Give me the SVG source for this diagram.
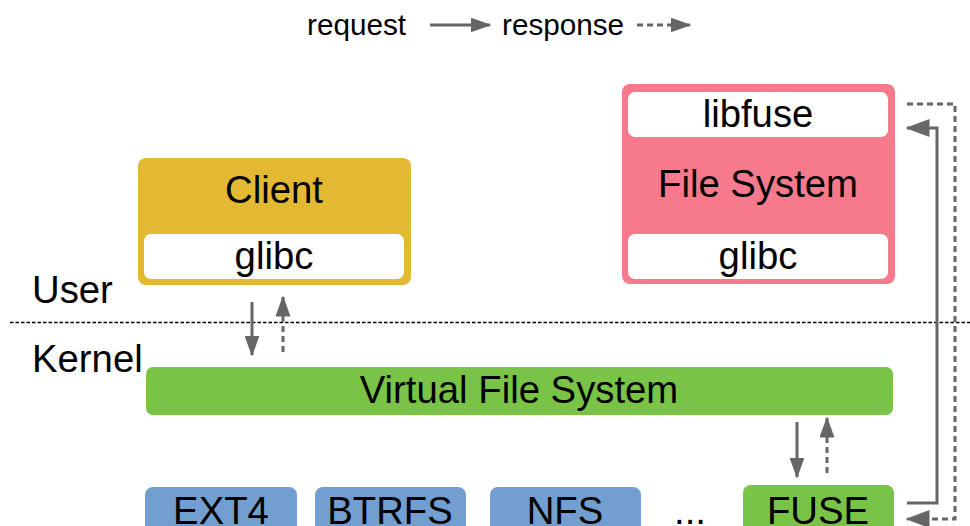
<svg xmlns="http://www.w3.org/2000/svg" width="970" height="526" viewBox="0 0 970 526">
  <style>
    text { font-family: "Liberation Sans", Arial, sans-serif; fill: #000; }
    .big { font-size: 38.3px; }
    .mid { font-size: 29.7px; }
    .c { text-anchor: middle; }
    .req { fill: none; stroke: #666; stroke-width: 3; }
    .res { fill: none; stroke: #666; stroke-width: 3; stroke-dasharray: 6 4; }
    .inner { fill: #fff; }
  </style>
  <defs>
    <marker id="head" viewBox="0 0 7 5" markerWidth="7" markerHeight="5" refX="6.5" refY="2.5" orient="auto" markerUnits="strokeWidth">
      <path d="M0,0 L7,2.5 L0,5 z" fill="#666"/>
    </marker>
    <marker id="headBig" viewBox="0 0 8 6" markerWidth="8" markerHeight="6" refX="7.5" refY="3" orient="auto" markerUnits="strokeWidth">
      <path d="M0,0 L8,3 L0,6 z" fill="#666"/>
    </marker>
  </defs>

  <!-- legend -->
  <g id="legend">
    <text class="mid" x="307" y="35">request</text>
    <line class="req" x1="430" y1="25" x2="490" y2="25" marker-end="url(#head)"/>
    <text class="mid" x="502" y="35">response</text>
    <line class="res" x1="637" y1="25" x2="690" y2="25" marker-end="url(#head)"/>
  </g>

  <!-- user / kernel boundary -->
  <g id="boundary">
    <line x1="10" y1="322.5" x2="970" y2="322.5" stroke="#000" stroke-width="1.5" stroke-dasharray="3.5 2"/>
    <text class="big" x="32" y="303">User</text>
    <text class="big" x="32" y="372">Kernel</text>
  </g>

  <g id="client">
    <rect x="138" y="158" width="273" height="127" rx="8" fill="#E3B933"/>
    <text class="big c" x="274" y="203">Client</text>
    <rect class="inner" x="144" y="234" width="260" height="45" rx="7"/>
    <text class="big c" x="274" y="269">glibc</text>
  </g>

  <g id="filesystem">
    <rect x="622" y="84" width="273" height="200" rx="8" fill="#F67A8B"/>
    <rect class="inner" x="628" y="92" width="260" height="45" rx="7"/>
    <text class="big c" x="758" y="127">libfuse</text>
    <text class="big c" x="758" y="197">File System</text>
    <rect class="inner" x="628" y="234" width="260" height="45" rx="7"/>
    <text class="big c" x="758" y="269">glibc</text>
  </g>

  <g id="vfs">
    <rect x="146" y="367" width="747" height="48" rx="7" fill="#79C447"/>
    <text class="big c" x="519" y="403">Virtual File System</text>
  </g>

  <g id="ext4">
    <rect x="145" y="487" width="152" height="60" rx="8" fill="#729FD0"/>
    <text class="big c" x="221" y="524">EXT4</text>
  </g>
  <g id="btrfs">
    <rect x="315" y="487" width="151" height="60" rx="8" fill="#729FD0"/>
    <text class="big c" x="390" y="524">BTRFS</text>
  </g>
  <g id="nfs">
    <rect x="490" y="487" width="151" height="60" rx="8" fill="#729FD0"/>
    <text class="big c" x="565" y="524">NFS</text>
  </g>
  <g id="more">
    <text class="big c" x="690" y="524">...</text>
  </g>
  <g id="fuse">
    <rect x="743" y="485" width="151" height="60" rx="8" fill="#79C447"/>
    <text class="big c" x="818" y="524">FUSE</text>
  </g>

  <g id="connectors">
    <!-- client <-> vfs -->
    <line class="req" x1="252" y1="302" x2="252" y2="355" marker-end="url(#head)"/>
    <line class="res" x1="283" y1="352" x2="283" y2="297" marker-end="url(#head)"/>
    <!-- vfs <-> fuse -->
    <line class="req" x1="797" y1="422" x2="797" y2="477" marker-end="url(#head)"/>
    <line class="res" x1="827" y1="473" x2="827" y2="418" marker-end="url(#head)"/>
    <!-- fuse -> libfuse -->
    <polyline class="req" points="907,503 937,503 937,128 907,128" marker-end="url(#headBig)"/>
    <!-- libfuse -> fuse -->
    <polyline class="res" points="907,104 955,104 955,519 907,519" marker-end="url(#headBig)"/>
  </g>
</svg>
